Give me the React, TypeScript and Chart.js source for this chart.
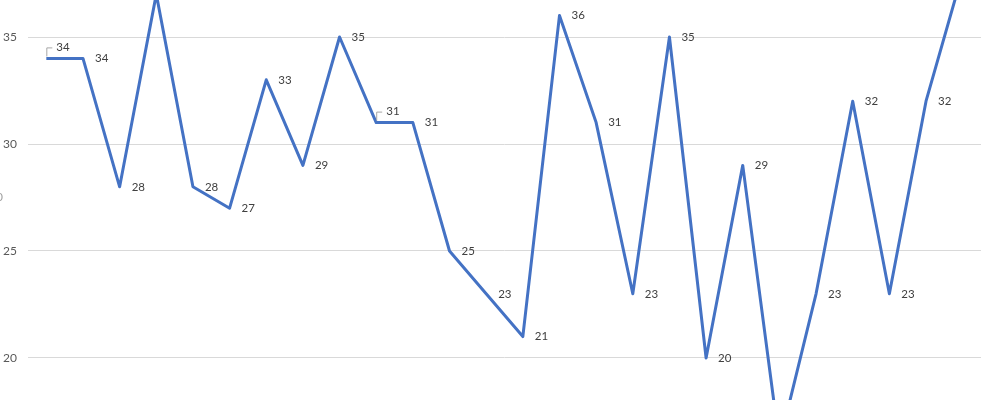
import React, { useEffect, useRef } from "react";
import { Chart, registerables } from "chart.js";

Chart.register(...registerables);

const categories: string[] = Array.from({ length: 26 }, (_, i) => String(i + 1));
const values: number[] = [34, 34, 28, 37, 28, 27, 33, 29, 35, 31, 31, 25, 23, 21, 36, 31, 23, 35, 20, 29, 16, 23, 32, 23, 32, 38];
const yTicks: number[] = [20, 25, 30, 35];
const leaderIdx: number[] = [0, 9];

const LINE = "#4472C4";
const FONT = "Lato, 'Open Sans', sans-serif";

const labelPlugin = {
  id: "dataLabels",
  afterDatasetsDraw(chart: any) {
    const ctx = chart.ctx;
    const meta = chart.getDatasetMeta(0);
    const area = chart.chartArea;
    ctx.save();
    ctx.font = `11.5px ${FONT}`;
    ctx.fillStyle = "#404040";
    ctx.textBaseline = "middle";
    ctx.textAlign = "left";
    meta.data.forEach((pt: any, i: number) => {
      const x = pt.x;
      const y = pt.y;
      if (y < area.top + 4 || y > area.bottom - 4 || x > area.right) return;
      const txt = String(values[i]);
      if (leaderIdx.includes(i)) {
        ctx.strokeStyle = "#a6a6a6";
        ctx.lineWidth = 1;
        ctx.beginPath();
        ctx.moveTo(x + 0.5, y - 2);
        ctx.lineTo(x + 0.5, y - 10.5);
        ctx.lineTo(x + 6, y - 10.5);
        ctx.stroke();
        ctx.fillText(txt, x + 10, y - 11);
      } else {
        ctx.fillText(txt, x + 12, y);
      }
    });
    ctx.fillStyle = "#a0a0a0";
    ctx.font = `12px ${FONT}`;
    ctx.fillText("0", -4, 197);
    ctx.restore();
  },
};

export default function App() {
  const ref = useRef<HTMLCanvasElement | null>(null);
  useEffect(() => {
    document.body.style.margin = "0";
    const canvas = ref.current!;
    const chart = new Chart(canvas, {
      type: "line",
      data: {
        labels: categories,
        datasets: [
          {
            data: values,
            borderColor: LINE,
            borderWidth: 3,
            pointRadius: 0,
            tension: 0,
            fill: false,
            clip: false,
            borderJoinStyle: "round",
          },
        ],
      },
      options: {
        animation: false,
        responsive: false,
        maintainAspectRatio: false,
        layout: { padding: 0 },
        plugins: { legend: { display: false }, tooltip: { enabled: false } },
        scales: {
          x: {
            display: false,
            offset: true,
            afterFit(scale: any) {
              scale.height = 0;
            },
          },
          y: {
            min: 20 - 42 / 21.4,
            max: 35 + 37 / 21.4,
            afterBuildTicks(scale: any) {
              scale.ticks = yTicks.map((v) => ({ value: v }));
            },
            afterFit(scale: any) {
              scale.width = 28;
              scale.paddingTop = 0;
              scale.paddingBottom = 0;
            },
            border: { display: false },
            grid: { color: "#d9d9d9", lineWidth: 1, drawTicks: false },
            ticks: {
              padding: 11,
              color: "#595959",
              font: { family: FONT, size: 12 },
            },
          },
        },
      },
      plugins: [labelPlugin],
    } as any);
    return () => chart.destroy();
  }, []);
  return (
    <div style={{ width: 988, height: 400, background: "#fff" }}>
      <canvas ref={ref} width={981} height={400} style={{ display: "block" }} />
    </div>
  );
}
